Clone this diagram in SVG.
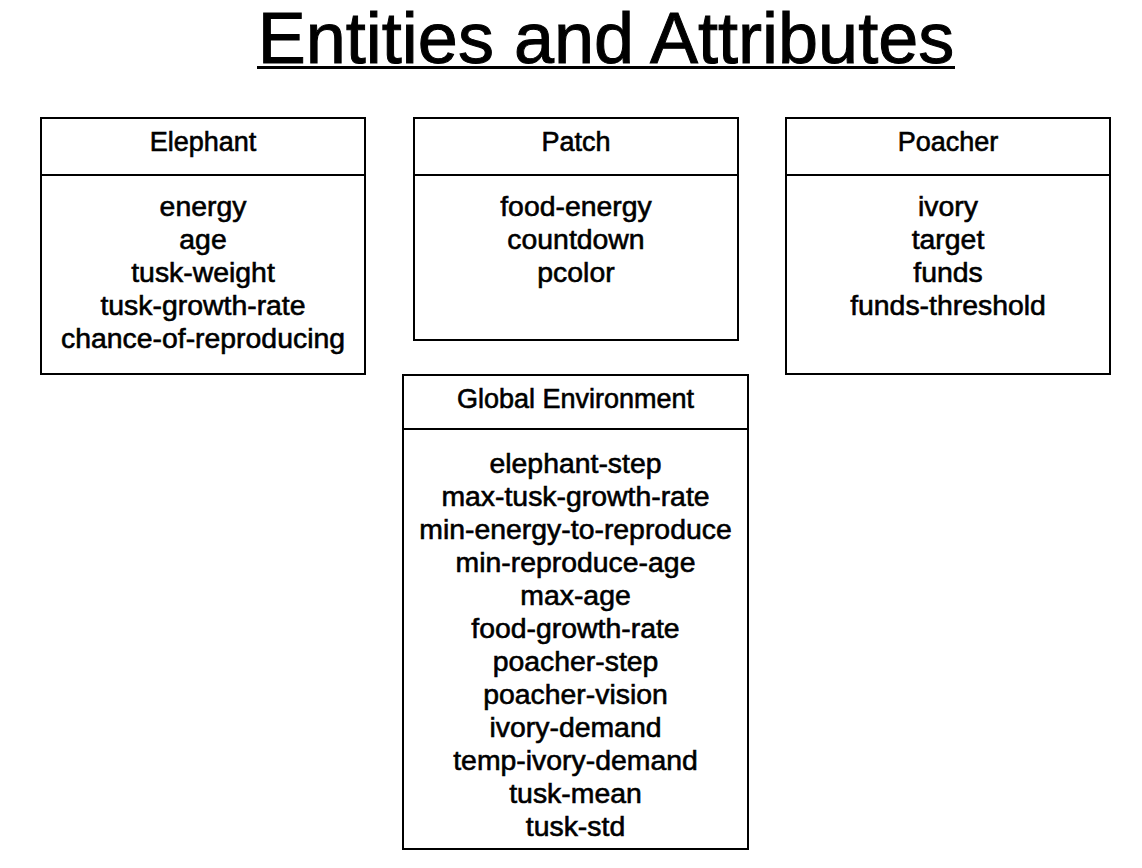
<svg xmlns="http://www.w3.org/2000/svg" width="1142" height="868" viewBox="0 0 1142 868">
<style>
.box{fill:#fff;stroke:#000;stroke-width:2}
.sep{stroke:#000;stroke-width:2}
text{font-family:"Liberation Sans",Arial,sans-serif;fill:#000;text-anchor:middle}
.hd{font-size:27px;stroke:#000;stroke-width:0.6}
.bd{font-size:28.4px;stroke:#000;stroke-width:0.6}
.title{font-size:72px;stroke:#000;stroke-width:1}
</style>
<rect width="1142" height="868" fill="#fff"/>
<g id="title">
<text class="title" x="606" y="63">Entities and Attributes</text>
<line x1="257" y1="67.5" x2="955" y2="67.5" stroke="#000" stroke-width="3"/>
</g>
<g id="elephant">
<rect class="box" x="41" y="118" width="324" height="256"/>
<line class="sep" x1="41" y1="175" x2="365" y2="175"/>
<text class="hd" x="203" y="151">Elephant</text>
<text class="bd" x="203" y="216">energy</text>
<text class="bd" x="203" y="249">age</text>
<text class="bd" x="203" y="282">tusk-weight</text>
<text class="bd" x="203" y="315">tusk-growth-rate</text>
<text class="bd" x="203" y="348">chance-of-reproducing</text>
</g>
<g id="patch">
<rect class="box" x="414" y="118" width="324" height="222"/>
<line class="sep" x1="414" y1="175" x2="738" y2="175"/>
<text class="hd" x="576" y="151">Patch</text>
<text class="bd" x="576" y="216">food-energy</text>
<text class="bd" x="576" y="249">countdown</text>
<text class="bd" x="576" y="282">pcolor</text>
</g>
<g id="poacher">
<rect class="box" x="786" y="118" width="324" height="256"/>
<line class="sep" x1="786" y1="175" x2="1110" y2="175"/>
<text class="hd" x="948" y="151">Poacher</text>
<text class="bd" x="948" y="216">ivory</text>
<text class="bd" x="948" y="249">target</text>
<text class="bd" x="948" y="282">funds</text>
<text class="bd" x="948" y="315">funds-threshold</text>
</g>
<g id="global">
<rect class="box" x="403" y="375" width="345" height="474"/>
<line class="sep" x1="403" y1="429" x2="748" y2="429"/>
<text class="hd" x="575.5" y="408">Global Environment</text>
<text class="bd" x="575.5" y="473">elephant-step</text>
<text class="bd" x="575.5" y="506">max-tusk-growth-rate</text>
<text class="bd" x="575.5" y="539">min-energy-to-reproduce</text>
<text class="bd" x="575.5" y="572">min-reproduce-age</text>
<text class="bd" x="575.5" y="605">max-age</text>
<text class="bd" x="575.5" y="638">food-growth-rate</text>
<text class="bd" x="575.5" y="671">poacher-step</text>
<text class="bd" x="575.5" y="704">poacher-vision</text>
<text class="bd" x="575.5" y="737">ivory-demand</text>
<text class="bd" x="575.5" y="770">temp-ivory-demand</text>
<text class="bd" x="575.5" y="803">tusk-mean</text>
<text class="bd" x="575.5" y="836">tusk-std</text>
</g>
<g id="connectors"></g>
</svg>
